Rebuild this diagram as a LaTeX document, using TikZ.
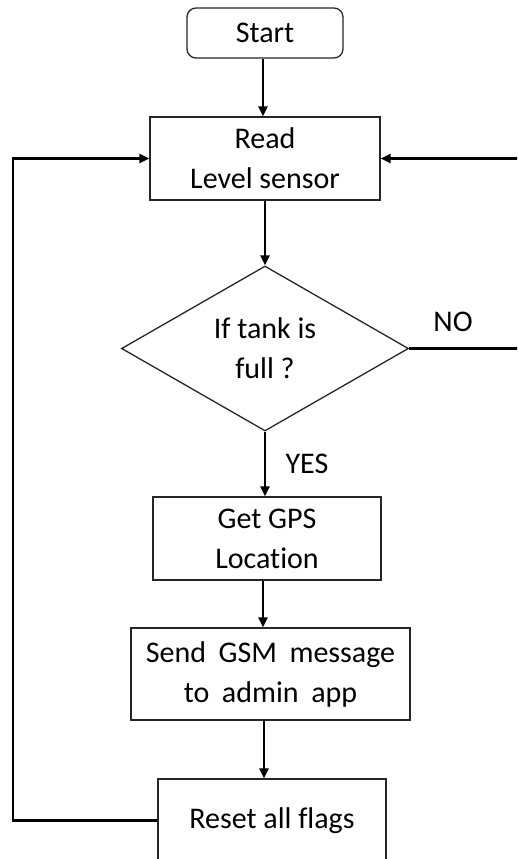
\documentclass[tikz,border=0pt]{standalone}
\usepackage{fontspec}
\setmainfont{Carlito}[Ligatures=NoCommon]
\usetikzlibrary{shapes.geometric,arrows.meta}

% slightly wider gaps between words
\newcommand\widerwords{\spaceskip=0.42em plus 0.1em\relax}

\tikzset{
  txt/.style={font=\fontsize{30}{40}\selectfont, text=black, align=center, inner sep=0pt},
  procbox/.style={txt, draw=black!85, line width=1.3pt, rectangle},
  termbox/.style={procbox, rounded corners=9pt},
  decbox/.style={txt, draw=black!85, line width=1.3pt, diamond, inner sep=0pt},
  flow/.style={draw=black, line width=2.6pt},
  arr/.style={flow, -{Triangle[length=10pt,width=9pt]}},
  lbl/.style={txt}
}

\begin{document}
\begin{tikzpicture}[x=1pt, y=-1pt]
  \useasboundingbox (0,0) rectangle (517,859);
  \clip (0,0) rectangle (517,859);

  % process steps
  \node[termbox, minimum width=156pt, minimum height=50pt] (start) at (265,33) {Start};
  \node[procbox, minimum width=230pt, minimum height=83pt] (read) at (265,158.5) {Read\\Level sensor};
  \node[decbox, minimum width=287pt, minimum height=165pt] (dec) at (265,348.5) {If tank is\\full ?};
  \node[procbox, minimum width=228pt, minimum height=83pt] (gps) at (267,538.5) {Get GPS\\Location};
  \node[procbox, minimum width=279pt, minimum height=92pt] (gsm) at (270.5,674) {\widerwords Send GSM message\\\widerwords to admin app};
  \node[procbox, minimum width=228pt, minimum height=83pt] (reset) at (272,820.5) {Reset all flags};

  % branch labels
  \node[lbl] (no) at (453,322) {NO};
  \node[lbl] (yes) at (307,464) {YES};

  % return paths
  \coordinate (lx) at (13,500);
  \coordinate (rx) at (521,500);

  % main flow
  \draw[arr] (start.south -| 263,0) -- (read.north -| 263,0);
  \draw[arr] (read.south) -- (dec.north);
  \draw[arr] (dec.south) -- (dec.south |- gps.north);
  \draw[arr] (gps.south -| 263,0) -- (gsm.north -| 263,0);
  \draw[arr] (gsm.south -| 264,0) -- (reset.north -| 264,0);

  % loop back after reset
  \draw[arr] (reset.west) -- (reset.west -| lx) -- (read.west -| lx) -- (read.west);

  % loop back when tank is not full
  \draw[arr] (dec.east) -- (dec.east -| rx) -- (read.east -| rx) -- (read.east);
\end{tikzpicture}
\end{document}
